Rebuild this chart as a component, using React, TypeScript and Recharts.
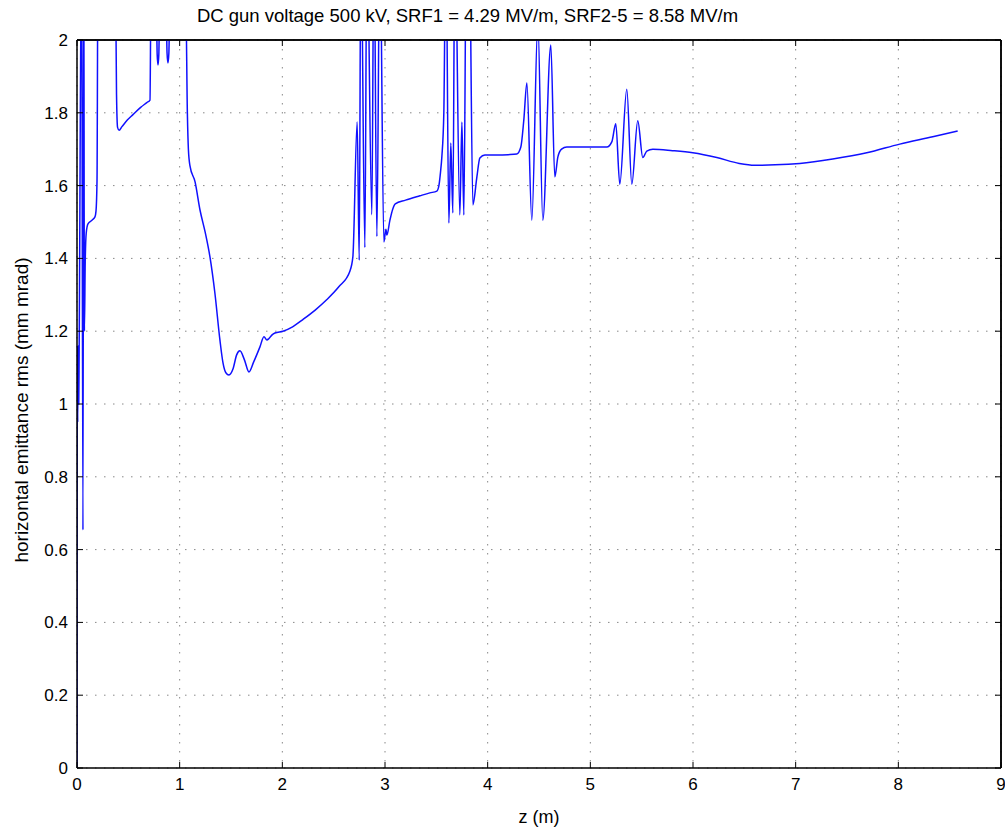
import React from "react";
import { LineChart, Line, XAxis, YAxis, CartesianGrid, ReferenceLine } from "recharts";

const zValues: number[] = [
  0, 0.003, 0.007, 0.012, 0.017, 0.021, 0.045, 0.058, 0.066, 0.072, 0.08, 0.09, 0.107, 0.146, 0.175, 0.185, 0.195, 0.205,
  0.37, 0.385, 0.395, 0.41, 0.438, 0.49, 0.545, 0.62, 0.68, 0.711, 0.72, 0.772, 0.781, 0.789, 0.797, 0.806,
  0.868, 0.877, 0.886, 0.895, 0.904,
  1.06, 1.075, 1.085, 1.1, 1.15, 1.198, 1.25, 1.295, 1.343, 1.392, 1.422, 1.45, 1.48, 1.52, 1.555, 1.587, 1.63,
  1.675, 1.72, 1.782, 1.821, 1.85, 1.87, 1.9, 1.928, 2.006, 2.1, 2.2, 2.32, 2.434, 2.55, 2.658,
  2.687, 2.729, 2.749, 2.765, 2.804, 2.824, 2.872, 2.892, 2.921, 2.95, 2.989, 3.009, 3.018, 3.048, 3.075, 3.1, 3.2, 3.34,
  3.437, 3.505, 3.525, 3.54, 3.554, 3.573, 3.593, 3.622, 3.641, 3.661, 3.681, 3.729, 3.749, 3.768, 3.793, 3.82, 3.856,
  3.895, 3.924, 3.973, 4.09, 4.2, 4.284, 4.323, 4.352, 4.382, 4.43, 4.489, 4.537, 4.615, 4.654, 4.684, 4.72, 4.771,
  4.995, 5.161, 5.209, 5.248, 5.287, 5.355, 5.404, 5.462, 5.511, 5.55, 5.609, 5.8, 5.998, 6.232, 6.45, 6.6, 6.8,
  7.04, 7.361, 7.692, 8.014, 8.335, 8.578,
];

const emittance: number[] = [
  0, 1.16, 0.95, 1.16, 1.0, 1.15, 2.3, 0.654, 2.3, 1.2, 1.39, 1.47, 1.495, 1.505, 1.514, 1.53, 1.615, 2.3,
  2.3, 1.85, 1.76, 1.752, 1.762, 1.78, 1.795, 1.815, 1.828, 1.835, 2.1, 2.1, 1.96, 1.931, 1.96, 2.1,
  2.1, 1.965, 1.937, 1.965, 2.1,
  2.1, 1.8, 1.7, 1.655, 1.61, 1.533, 1.47, 1.404, 1.305, 1.176, 1.113, 1.086, 1.08, 1.097, 1.135, 1.146, 1.122,
  1.088, 1.115, 1.157, 1.185, 1.176, 1.18, 1.19, 1.195, 1.2, 1.212, 1.232, 1.258, 1.287, 1.322, 1.365,
  1.404, 1.775, 1.395, 2.3, 1.43, 2.3, 1.52, 2.3, 1.46, 2.3, 1.445, 1.48, 1.464, 1.505, 1.535, 1.55, 1.56, 1.572,
  1.58, 1.585, 1.6, 1.635, 1.68, 1.8, 2.3, 1.497, 1.717, 1.525, 2.3, 1.519, 1.775, 1.519, 2.3, 2.3, 1.547,
  1.624, 1.676, 1.684, 1.684, 1.685, 1.687, 1.706, 1.78, 1.882, 1.505, 2.05, 1.505, 1.986, 1.624, 1.679, 1.7, 1.706,
  1.706, 1.706, 1.72, 1.77, 1.604, 1.865, 1.604, 1.778, 1.677, 1.695, 1.7, 1.696, 1.69, 1.677, 1.661, 1.656, 1.657,
  1.661, 1.673, 1.69, 1.714, 1.734, 1.75,
];

const xTicks: number[] = [0, 1, 2, 3, 4, 5, 6, 7, 8, 9];
const yTicks: number[] = [0, 0.2, 0.4, 0.6, 0.8, 1, 1.2, 1.4, 1.6, 1.8, 2];

const titleText = "DC gun voltage 500 kV, SRF1 = 4.29 MV/m, SRF2-5 = 8.58 MV/m";
const xLabelText = "z (m)";
const yLabelText = "horizontal emittance rms (mm mrad)";

const data = zValues.map((z, i) => ({ z, e: emittance[i] }));

const FONT = "'Liberation Sans', Arial, sans-serif";

export default function App() {
  return (
    <div style={{ position: "absolute", left: 0, top: 0, width: 1005, height: 832, background: "#fff", fontFamily: FONT }}>
      <LineChart
        width={1005}
        height={832}
        data={data}
        margin={{ top: 40, right: 4, bottom: 0, left: 0 }}
      >
        <CartesianGrid stroke="#888" strokeDasharray="1.5 7.5" />
        <XAxis
          type="number"
          dataKey="z"
          domain={[0, 9]}
          ticks={xTicks}
          allowDataOverflow
          height={64}
          tickSize={-6}
          tickMargin={16}
          axisLine={{ stroke: "#000", strokeWidth: 1.5 }}
          tickLine={{ stroke: "#000" }}
          tick={{ fill: "#000", fontSize: 17, fontFamily: FONT }}
          interval={0}
        />
        <XAxis
          xAxisId="top"
          orientation="top"
          mirror
          type="number"
          dataKey="z"
          domain={[0, 9]}
          ticks={xTicks}
          allowDataOverflow
          tickSize={6}
          tickFormatter={() => ""}
          axisLine={{ stroke: "#000", strokeWidth: 1.5 }}
          tickLine={{ stroke: "#000" }}
          interval={0}
        />
        <YAxis
          domain={[0, 2]}
          ticks={yTicks}
          allowDataOverflow
          width={77}
          tickSize={-6}
          tickMargin={15}
          axisLine={{ stroke: "#000", strokeWidth: 1.5 }}
          tickLine={{ stroke: "#000" }}
          tick={{ fill: "#000", fontSize: 17, fontFamily: FONT }}
          interval={0}
        />
        <YAxis
          yAxisId="right"
          orientation="right"
          mirror
          domain={[0, 2]}
          ticks={yTicks}
          allowDataOverflow
          tickSize={6}
          tickFormatter={() => ""}
          axisLine={{ stroke: "#000", strokeWidth: 1.5 }}
          tickLine={{ stroke: "#000" }}
          interval={0}
        />
        <ReferenceLine y={2} stroke="#000" strokeWidth={1.5} ifOverflow="visible" />
        <ReferenceLine x={9} stroke="#000" strokeWidth={1.5} ifOverflow="visible" />
        <Line
          type="monotoneX"
          dataKey="e"
          stroke="#1010ff"
          strokeWidth={1.5}
          dot={false}
          isAnimationActive={false}
        />
      </LineChart>
      <div style={{ position: "absolute", left: 0, width: 935, top: 5, textAlign: "center", fontSize: 18.5, color: "#000" }}>
        {titleText}
      </div>
      <div style={{ position: "absolute", left: 77, width: 924, top: 807, textAlign: "center", fontSize: 18, color: "#000" }}>
        {xLabelText}
      </div>
      <div
        style={{
          position: "absolute",
          left: 22,
          top: 410,
          transform: "translate(-50%, -50%) rotate(-90deg)",
          whiteSpace: "nowrap",
          fontSize: 19,
          color: "#000",
        }}
      >
        {yLabelText}
      </div>
    </div>
  );
}
